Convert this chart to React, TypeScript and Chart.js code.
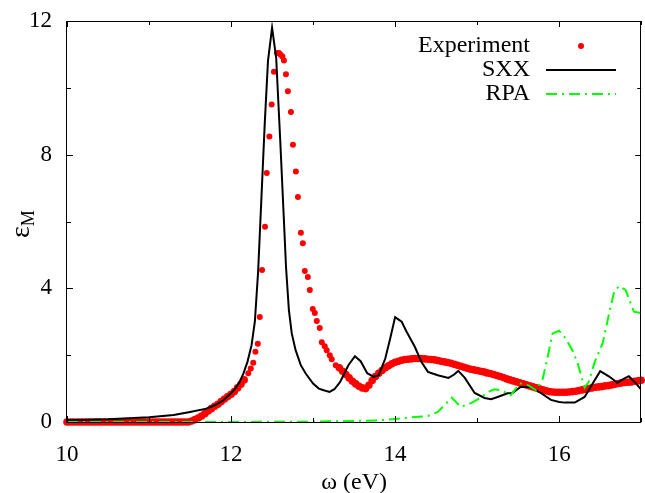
import React, { useEffect, useRef } from 'react';
import { Chart, registerables } from 'chart.js';

Chart.register(...registerables);

// ---------- data ----------
const expX = [
  10.0, 10.04, 10.08, 10.12, 10.16, 10.2, 10.24, 10.28, 10.32, 10.36, 10.4, 10.44, 10.48, 10.52, 10.56, 10.6,
  10.64, 10.68, 10.72, 10.76, 10.8, 10.84, 10.88, 10.92, 10.96, 11.0, 11.04, 11.08, 11.12, 11.16, 11.2, 11.24,
  11.28, 11.32, 11.36, 11.4, 11.44, 11.48,
  11.52, 11.56, 11.6, 11.64, 11.68, 11.72, 11.76, 11.8, 11.84, 11.88, 11.92, 11.96, 12.0, 12.04, 12.08, 12.12, 12.16,
  12.21, 12.24, 12.27, 12.297, 12.326, 12.35, 12.378, 12.414, 12.435, 12.467, 12.495, 12.523,
  12.56, 12.584, 12.605, 12.626, 12.645, 12.669, 12.693, 12.73, 12.754, 12.79, 12.815, 12.851, 12.875, 12.899,
  12.936, 12.96, 12.996, 13.021, 13.045, 13.081, 13.106, 13.142, 13.166, 13.203, 13.227, 13.276,
  13.32, 13.36, 13.4, 13.44, 13.48, 13.52, 13.56, 13.6, 13.64, 13.68, 13.72, 13.76, 13.8, 13.84, 13.88, 13.92,
  13.96, 14.0, 14.04, 14.08, 14.12, 14.16, 14.2, 14.24, 14.28, 14.32, 14.36, 14.4, 14.44, 14.48, 14.52, 14.56,
  14.6, 14.64, 14.68, 14.72, 14.76, 14.8, 14.84, 14.88, 14.92, 14.96, 15.0, 15.04, 15.08, 15.12, 15.16, 15.2,
  15.24, 15.28, 15.32, 15.36, 15.4, 15.44, 15.48, 15.52, 15.56, 15.6, 15.64, 15.68, 15.72, 15.76, 15.8, 15.84,
  15.88, 15.92, 15.96, 16.0, 16.04, 16.08, 16.12, 16.16, 16.2, 16.24, 16.28, 16.32, 16.36, 16.4, 16.44, 16.48,
  16.52, 16.56, 16.6, 16.64, 16.68, 16.72, 16.76, 16.8, 16.84, 16.88, 16.92, 16.96, 17.0,
];
const expY = [
  0, 0, 0, 0, 0, 0, 0, 0, 0, 0, 0, 0, 0, 0, 0, 0,
  0, 0, 0, 0, 0, 0, 0, 0, 0, 0, 0, 0, 0, 0, 0, 0,
  0, 0, 0, 0, 0, 0,
  0.03, 0.07, 0.12, 0.18, 0.25, 0.33, 0.4, 0.47, 0.53, 0.61, 0.69, 0.76, 0.83, 0.91, 1.02, 1.13, 1.26,
  1.46, 1.6, 1.77, 2.1, 2.34, 3.14, 4.55, 5.84, 7.45, 8.54, 9.5, 10.48,
  11.04, 11.04, 10.99, 10.94, 10.82, 10.41, 9.9, 9.28, 8.3, 7.5, 6.73, 5.66, 5.35, 4.52,
  4.34, 3.95, 3.38, 3.26, 3.02, 2.81, 2.39, 2.27, 2.15, 2.0, 1.88, 1.7,
  1.62, 1.52, 1.42, 1.32, 1.22, 1.14, 1.07, 1.02, 1.0, 1.1, 1.24, 1.36, 1.46, 1.54, 1.62, 1.68,
  1.74, 1.79, 1.82, 1.85, 1.87, 1.88, 1.89, 1.9, 1.9, 1.9, 1.89, 1.88, 1.87, 1.86, 1.84, 1.82,
  1.8, 1.78, 1.76, 1.73, 1.7, 1.67, 1.64, 1.61, 1.58, 1.56, 1.54, 1.52, 1.5, 1.47, 1.45, 1.42,
  1.39, 1.36, 1.33, 1.29, 1.26, 1.23, 1.2, 1.17, 1.14, 1.11, 1.08, 1.05, 1.02, 0.99, 0.96, 0.93,
  0.91, 0.9, 0.89, 0.89, 0.89, 0.89, 0.9, 0.91, 0.92, 0.94, 0.96, 0.98, 1.0, 1.02, 1.04, 1.05,
  1.06, 1.08, 1.09, 1.11, 1.13, 1.15, 1.17, 1.18, 1.19, 1.2, 1.22, 1.23, 1.25,
];

const sxxX = [
  10.0, 10.5, 11.0, 11.3, 11.5, 11.7, 11.8, 11.9, 12.0, 12.05, 12.1, 12.15, 12.2, 12.25, 12.29, 12.33, 12.37,
  12.41, 12.45, 12.5, 12.55, 12.6, 12.645, 12.67, 12.705, 12.74, 12.787, 12.85, 12.91, 13.0, 13.07, 13.13, 13.2,
  13.26, 13.33, 13.43, 13.51, 13.58, 13.66, 13.74, 13.8, 13.88, 13.94, 14.0, 14.08, 14.14, 14.24, 14.32, 14.4,
  14.52, 14.65, 14.72, 14.77, 14.85, 14.97, 15.09, 15.17, 15.25, 15.37, 15.43, 15.53, 15.65, 15.78, 15.9, 16.0,
  16.07, 16.19, 16.31, 16.41, 16.5, 16.61, 16.71, 16.78, 16.85, 16.93, 17.0,
];
const sxxY = [
  0.05, 0.08, 0.14, 0.21, 0.3, 0.4, 0.5, 0.64, 0.86, 1.0, 1.18, 1.45, 1.8, 2.3, 3.0, 4.5, 6.7,
  8.9, 10.8, 11.8, 10.9, 8.4, 6.0, 4.64, 3.35, 2.65, 2.15, 1.7, 1.45, 1.15, 1.0, 0.95, 0.9,
  0.98, 1.2, 1.7, 1.97, 1.82, 1.46, 1.35, 1.4, 1.9, 2.5, 3.14, 3.0, 2.7, 2.25, 1.8, 1.5,
  1.4, 1.32, 1.42, 1.53, 1.32, 0.87, 0.72, 0.68, 0.75, 0.86, 0.87, 1.05, 1.05, 0.86, 0.66, 0.6,
  0.58, 0.58, 0.75, 1.16, 1.52, 1.36, 1.17, 1.28, 1.37, 1.17, 0.97,
];

const rpaX = [
  10.0, 11.0, 12.0, 13.0, 13.5, 13.8, 14.0, 14.2, 14.4, 14.52, 14.6, 14.69, 14.8, 14.93, 15.05, 15.13, 15.21,
  15.29, 15.41, 15.52, 15.62, 15.72, 15.8, 15.86, 15.92, 16.0, 16.08, 16.16, 16.22, 16.31, 16.36, 16.43, 16.53,
  16.61, 16.67, 16.73, 16.81, 16.87, 16.91, 17.0,
];
const rpaY = [
  0, 0, 0, 0.01, 0.03, 0.05, 0.09, 0.14, 0.18, 0.3, 0.5, 0.73, 0.45, 0.57, 0.73, 0.9, 0.98,
  0.95, 0.8, 1.16, 1.1, 0.95, 1.3, 1.95, 2.65, 2.73, 2.5, 2.15, 1.8, 1.03, 1.2, 1.77, 2.36,
  3.26, 3.9, 4.07, 3.95, 3.56, 3.3, 3.26,
];

const xTicks = [10, 11, 12, 13, 14, 15, 16, 17];
const yTicks = [0, 2, 4, 6, 8, 10, 12];
const xLabelled = [10, 12, 14, 16];
const yLabelled = [0, 4, 8, 12];

const SERIF = "'Liberation Serif', 'Times New Roman', serif";

const framePlugin = {
  id: 'gnuFrame',
  afterDraw(chart: any) {
    const { ctx, chartArea } = chart;
    const { left, right, top, bottom } = chartArea;
    const xs = chart.scales.x;
    const ys = chart.scales.y;
    ctx.save();
    ctx.strokeStyle = '#000';
    ctx.lineWidth = 1;
    ctx.strokeRect(Math.round(left) - 0.5, Math.round(top) + 0.5, Math.round(right - left), Math.round(bottom - top));
    ctx.beginPath();
    for (const v of xTicks) {
      const px = Math.round(xs.getPixelForValue(v)) + 0.5;
      const len = xLabelled.includes(v) ? 6 : 4;
      ctx.moveTo(px, bottom);
      ctx.lineTo(px, bottom - len);
      ctx.moveTo(px, top);
      ctx.lineTo(px, top + len);
    }
    for (const v of yTicks) {
      const py = Math.round(ys.getPixelForValue(v)) + 0.5;
      const len = yLabelled.includes(v) ? 6 : 4;
      ctx.moveTo(left, py);
      ctx.lineTo(left + len, py);
      ctx.moveTo(right, py);
      ctx.lineTo(right - len, py);
    }
    ctx.stroke();

    // legend
    const ds = chart.data.datasets;
    const textRight = 530;
    const sampleL = 546;
    const sampleR = 616;
    ctx.font = `24px ${SERIF}`;
    ctx.textAlign = 'right';
    ctx.textBaseline = 'middle';
    ds.forEach((d: any, i: number) => {
      const y = 46 + i * 24;
      ctx.fillStyle = '#000';
      ctx.fillText(d.label, textRight, y);
      if (d.showLine) {
        ctx.save();
        ctx.strokeStyle = d.borderColor;
        ctx.lineWidth = d.borderWidth;
        ctx.setLineDash(d.borderDash || []);
        ctx.beginPath();
        ctx.moveTo(sampleL, y);
        ctx.lineTo(sampleR, y);
        ctx.stroke();
        ctx.restore();
      } else {
        ctx.beginPath();
        ctx.fillStyle = d.backgroundColor;
        ctx.arc((sampleL + sampleR) / 2, y, 3, 0, Math.PI * 2);
        ctx.fill();
      }
    });

    // x title
    ctx.fillStyle = '#000';
    ctx.textAlign = 'center';
    ctx.textBaseline = 'middle';
    ctx.font = `24px ${SERIF}`;
    ctx.fillText('ω (eV)', (left + right) / 2, 483);

    // y title (epsilon with subscript M), rotated
    ctx.save();
    ctx.translate(29, 238);
    ctx.rotate(-Math.PI / 2);
    ctx.textAlign = 'left';
    ctx.textBaseline = 'alphabetic';
    ctx.font = `28px ${SERIF}`;
    ctx.fillText('ε', 0, 0);
    const w = ctx.measureText('ε').width;
    ctx.font = `18px ${SERIF}`;
    ctx.fillText('M', w, 5);
    ctx.restore();
    ctx.restore();
  },
};

export default function App() {
  const ref = useRef<HTMLCanvasElement | null>(null);
  useEffect(() => {
    if (!ref.current) return;
    const chart = new Chart(ref.current, {
      type: 'scatter',
      data: {
        datasets: [
          {
            label: 'Experiment',
            data: expX.map((x, i) => ({ x, y: expY[i] })),
            showLine: false,
            pointRadius: (c: any) => {
              const x = c.raw ? c.raw.x : 0;
              return x < 12.2 || x > 13.3 ? 3.8 : 3;
            },
            pointHoverRadius: 3,
            pointBorderWidth: 0,
            backgroundColor: '#ff0000',
            borderColor: '#ff0000',
            clip: false as any,
            order: 3,
          },
          {
            label: 'SXX',
            data: sxxX.map((x, i) => ({ x, y: sxxY[i] })),
            showLine: true,
            pointRadius: 0,
            borderColor: '#000000',
            backgroundColor: '#000000',
            borderWidth: 2,
            tension: 0,
            order: 2,
          },
          {
            label: 'RPA',
            data: rpaX.map((x, i) => ({ x, y: rpaY[i] })),
            showLine: true,
            pointRadius: 0,
            borderColor: '#00ff00',
            backgroundColor: '#00ff00',
            borderWidth: 2,
            borderDash: [11, 5, 2, 5],
            tension: 0,
            order: 1,
          },
        ],
      },
      options: {
        animation: false,
        responsive: false,
        devicePixelRatio: 1,
        layout: { padding: { left: 0, top: 21, right: 1, bottom: 0 } },
        plugins: { legend: { display: false }, tooltip: { enabled: false } },
        scales: {
          x: {
            type: 'linear',
            min: 10,
            max: 17,
            afterFit: (s: any) => {
              s.height = 71;
              s.paddingLeft = 0;
              s.paddingRight = 0;
            },
            afterBuildTicks: (s: any) => { s.ticks = xTicks.map((v) => ({ value: v })); },
            grid: { display: false, drawTicks: false },
            border: { display: false },
            ticks: {
              autoSkip: false,
              maxRotation: 0,
              padding: 19,
              color: '#000',
              font: { family: SERIF, size: 23 },
              callback: (v: any) => (xLabelled.includes(Number(v)) ? String(v) : ''),
            },
          },
          y: {
            type: 'linear',
            min: 0,
            max: 12,
            afterFit: (s: any) => {
              s.width = 67;
              s.paddingTop = 0;
              s.paddingBottom = 0;
            },
            afterBuildTicks: (s: any) => { s.ticks = yTicks.map((v) => ({ value: v })); },
            grid: { display: false, drawTicks: false },
            border: { display: false },
            ticks: {
              autoSkip: false,
              padding: 15,
              color: '#000',
              font: { family: SERIF, size: 23 },
              callback: (v: any) => (yLabelled.includes(Number(v)) ? String(v) : ''),
            },
          },
        },
      },
      plugins: [framePlugin],
    });
    return () => chart.destroy();
  }, []);
  return (
    <div style={{ position: 'absolute', left: 0, top: 0, width: 645, height: 493 }}>
      <canvas ref={ref} width={645} height={493} style={{ display: 'block' }} />
    </div>
  );
}
